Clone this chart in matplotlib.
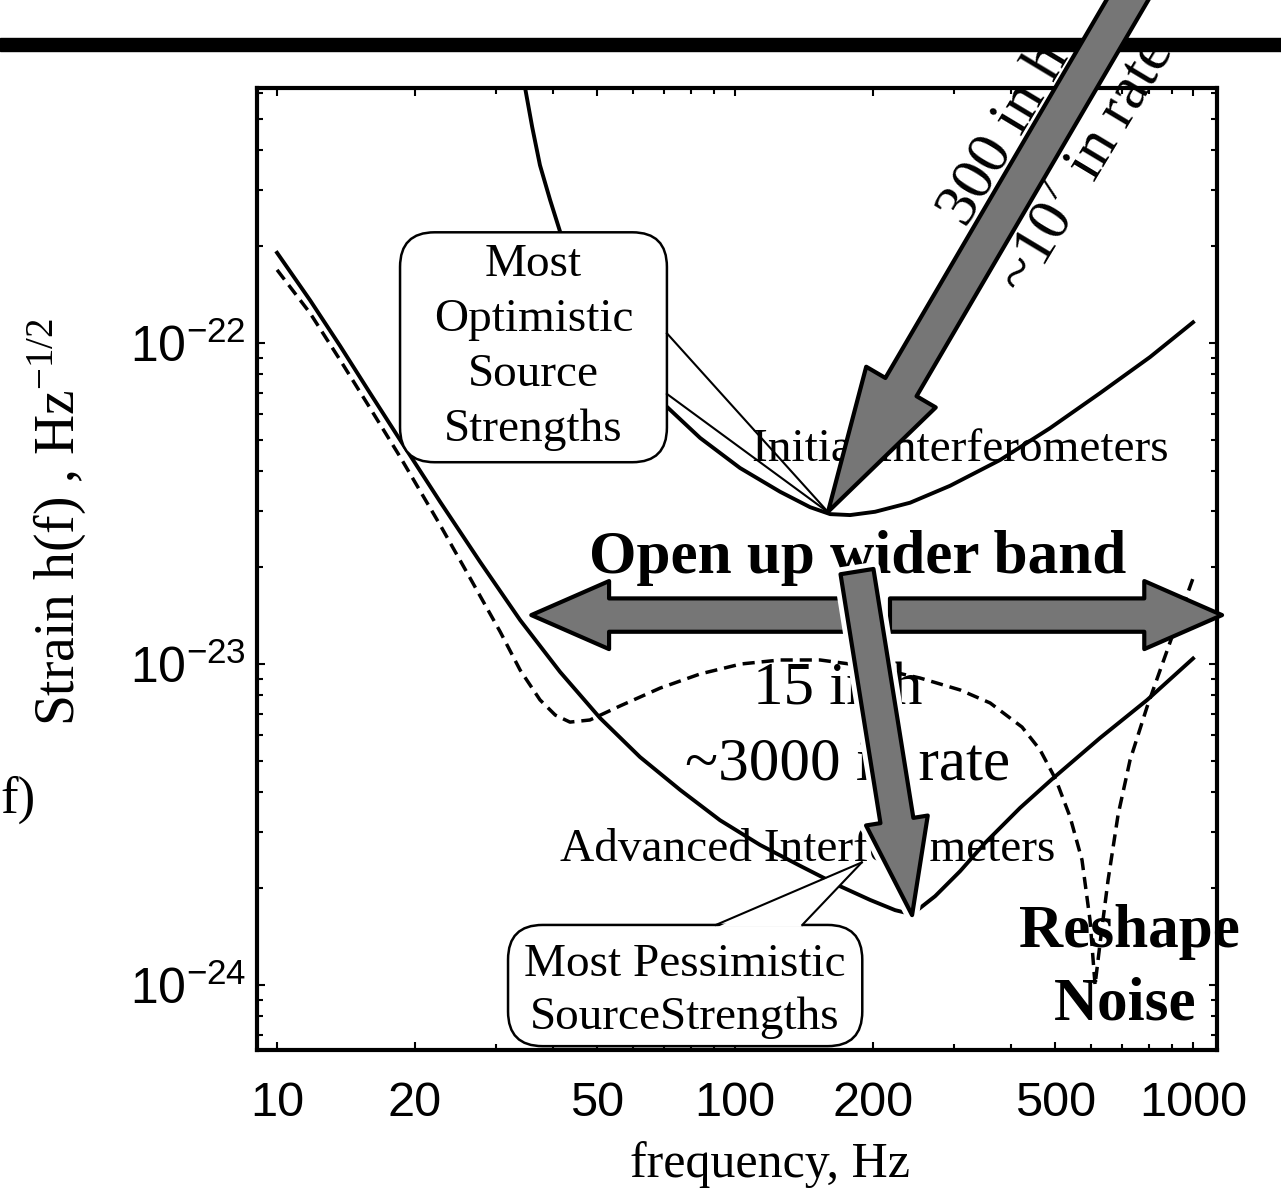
import matplotlib
matplotlib.use("Agg")
import matplotlib.pyplot as plt
from matplotlib.patches import FancyBboxPatch, Rectangle, Polygon
from matplotlib.ticker import FixedLocator, FixedFormatter, NullFormatter

# Valeurs : fréquence (Hz) et bruit en strain (Hz^-1/2)
freq_initial = [33.6, 34.8, 36.06, 37.5, 39.46, 41.5, 45.9, 50.7, 59.0, 70.3, 83.9, 102.5, 125.4,
                145.8, 161.3, 178.3, 202.2, 241.1, 294.7, 379, 487.3, 626.5, 805.5, 1000]
h_initial = [8.79e-22, 6.23e-22, 4.71e-22, 3.58e-22, 2.79e-22, 2.22e-22, 1.57e-22, 1.20e-22,
             8.54e-23, 6.41e-23, 5.06e-23, 4.08e-23, 3.44e-23, 3.08e-23, 2.93e-23, 2.91e-23,
             2.98e-23, 3.18e-23, 3.59e-23, 4.32e-23, 5.43e-23, 6.98e-23, 9.04e-23, 1.16e-22]

freq_advanced = [10, 11.8, 13.73, 15.96, 18.56, 22.7, 27.75, 33.94, 41.5, 50.7, 62.0, 75.9, 92.7,
                 113.4, 138.7, 169.6, 197.2, 223.6, 243.5, 273.4, 309.9, 351.5, 419.0, 489.8,
                 626.5, 793.6, 1000]
h_advanced = [1.91e-22, 1.36e-22, 9.79e-23, 6.98e-23, 4.99e-23, 3.20e-23, 2.08e-23, 1.37e-23,
              9.44e-24, 6.79e-24, 5.13e-24, 4.05e-24, 3.26e-24, 2.73e-24, 2.35e-24, 2.03e-24,
              1.84e-24, 1.71e-24, 1.66e-24, 1.89e-24, 2.26e-24, 2.77e-24, 3.56e-24, 4.35e-24,
              5.88e-24, 7.72e-24, 1.04e-23]

freq_reshaped = [10, 11.8, 13.73, 15.96, 18.56, 22.7, 26.4, 30.7, 33.94, 37.5, 40.5, 43.6, 48.2,
                 56.1, 68.6, 83.9, 103.1, 125.4, 153.3, 197.2, 253.5, 309.9, 360.5, 423.2, 463.4,
                 502.2, 538.8, 572.2, 595.8, 611, 629.7, 652.3, 686, 728.6, 793.6, 895, 1000]
h_reshaped = [1.69e-22, 1.24e-22, 8.85e-23, 6.27e-23, 4.42e-23, 2.71e-23, 1.85e-23, 1.26e-23,
              9.57e-24, 7.73e-24, 6.93e-24, 6.59e-24, 6.69e-24, 7.40e-24, 8.41e-24, 9.31e-24,
              1.0e-23, 1.029e-23, 1.029e-23, 9.8e-24, 9.04e-24, 8.30e-24, 7.56e-24, 6.36e-24,
              5.40e-24, 4.35e-24, 3.34e-24, 2.45e-24, 1.59e-24, 1.0e-24, 1.43e-24, 2.12e-24,
              3.39e-24, 5.02e-24, 7.35e-24, 1.19e-23, 1.85e-23]

xtick_values = [10, 20, 50, 100, 200, 500, 1000]
xtick_labels = ["10", "20", "50", "100", "200", "500", "1000"]
ytick_values = [1e-24, 1e-23, 1e-22]

plt.rcParams["font.family"] = "Liberation Serif"

W, H = 1281, 1201
fig = plt.figure(figsize=(W / 100, H / 100), dpi=100)
ax = fig.add_axes([257 / W, 1 - 1050 / H, 960 / W, 962 / H])

# barre noire en haut
fig.add_artist(Rectangle((0, 1 - 51 / H), 1, 13 / H, transform=fig.transFigure,
                         color="black", zorder=-1))

# Courbes
ax.loglog(freq_initial, h_initial, color="black", lw=2.8, zorder=3)
ax.loglog(freq_advanced, h_advanced, color="black", lw=2.8, zorder=3)
ax.loglog(freq_reshaped, h_reshaped, color="black", lw=2.5, ls=(0, (3.5, 2)), zorder=3)

ax.set_xlim(9.04, 1128)
ax.set_ylim(6.27e-25, 6.23e-22)

ax.xaxis.set_major_locator(FixedLocator(xtick_values))
ax.xaxis.set_major_formatter(FixedFormatter(xtick_labels))
ax.yaxis.set_major_locator(FixedLocator(ytick_values))
ax.xaxis.set_minor_formatter(NullFormatter())
ax.yaxis.set_minor_formatter(NullFormatter())
ax.tick_params(which="both", direction="in", top=True, right=True, width=1.5)
ax.tick_params(which="major", length=6)
ax.tick_params(which="minor", length=4)
ax.tick_params(axis="x", labelsize=35, pad=22, labelfontfamily="Liberation Sans")
ax.tick_params(axis="y", labelsize=36, pad=8, labelfontfamily="Liberation Sans")
for s in ax.spines.values():
    s.set_linewidth(3)

fig.text(770 / W, 1 - 1165 / H, "frequency, Hz", fontsize=36, ha="center", va="center")
fig.text(57 / W, 1 - 522 / H, r"Strain h(f) , Hz$^{\mathregular{-1/2}}$", fontsize=40,
         rotation=90, ha="center", va="center")
fig.text(0.0, 1 - 800 / H, "f)", fontsize=38, ha="left", va="center")

# Textes
ax.text(0.5156, 0.6237, "Initial Interferometers", transform=ax.transAxes, fontsize=34,
        ha="left", va="center", zorder=2.5)
ax.text(0.3156, 0.2079, "Advanced Interferometers", transform=ax.transAxes, fontsize=34,
        ha="left", va="center", zorder=2.5)
ax.text(0.626, 0.5114, "Open up wider band", transform=ax.transAxes, fontsize=44,
        fontweight="bold", ha="center", va="center", zorder=2.5)
ax.text(0.605, 0.3742, "15 in h", transform=ax.transAxes, fontsize=44,
        ha="center", va="center", zorder=2.5)
ax.text(0.6156, 0.2963, "~3000 in rate", transform=ax.transAxes, fontsize=44,
        ha="center", va="center", zorder=2.5)
ax.text(0.909, 0.1227, "Reshape", transform=ax.transAxes, fontsize=44,
        fontweight="bold", ha="center", va="center", zorder=2.5)
ax.text(0.904, 0.0468, "Noise", transform=ax.transAxes, fontsize=44,
        fontweight="bold", ha="center", va="center", zorder=2.5)

# Bulles
box1 = FancyBboxPatch((0.149, 0.611), 0.278, 0.239, boxstyle="round,pad=0,rounding_size=0.036",
                      transform=ax.transAxes, facecolor="white", edgecolor="black", lw=1.8,
                      zorder=4, clip_on=False)
ax.add_patch(box1)
ax.text(0.288, 0.7305, "Most\nOptimistic\nSource\nStrengths", transform=ax.transAxes,
        fontsize=34, ha="center", va="center", linespacing=1.38, zorder=4.5)
ax.plot([0.427, 0.595], [0.745, 0.559], transform=ax.transAxes, color="black", lw=1.5, zorder=4)
ax.plot([0.427, 0.595], [0.682, 0.559], transform=ax.transAxes, color="black", lw=1.5, zorder=4)

box2 = FancyBboxPatch((0.2615, 0.004), 0.369, 0.126, boxstyle="round,pad=0,rounding_size=0.036",
                      transform=ax.transAxes, facecolor="white", edgecolor="black", lw=1.8,
                      zorder=4, clip_on=False)
ax.add_patch(box2)
ax.add_patch(Polygon([(0.480, 0.128), (0.566, 0.128), (0.630, 0.195)], closed=True,
                     transform=ax.transAxes, facecolor="white", edgecolor="none", zorder=4.1))
ax.text(0.446, 0.061, "Most Pessimistic\nSourceStrengths", transform=ax.transAxes,
        fontsize=34, ha="center", va="center", linespacing=1.34, zorder=4.5)
ax.plot([0.478, 0.630], [0.130, 0.195], transform=ax.transAxes, color="black", lw=1.5, zorder=4.2)
ax.plot([0.568, 0.630], [0.130, 0.195], transform=ax.transAxes, color="black", lw=1.5, zorder=4.2)


def fat_arrow(tail, tip, tail_w, head_w, head_l, edge="black", lw=3, z=6):
    style = f"simple,head_length={head_l},head_width={head_w},tail_width={tail_w}"
    ax.annotate("", xy=tip, xytext=tail, annotation_clip=False, zorder=z,
                arrowprops=dict(arrowstyle=style, facecolor="#767676", edgecolor=edge,
                                linewidth=lw, shrinkA=0, shrinkB=0, mutation_scale=1))


# flèche diagonale (300 en h)
fat_arrow((762, 1.35e-21), (159.6, 2.98e-23), 26, 58, 104)
ax.text(388.6, 4.45e-22, "300 in h", fontsize=44, rotation=59, rotation_mode="anchor",
        ha="center", va="center", zorder=5)
ax.text(586.9, 3.53e-22, r"~10$^{\mathregular{7}}$ in rate", fontsize=44, rotation=59,
        rotation_mode="anchor", ha="center", va="center", zorder=5)

# double flèche horizontale
fat_arrow((173.9, 1.42e-23), (35.9, 1.42e-23), 24, 49, 56)
fat_arrow((217.9, 1.42e-23), (1157, 1.42e-23), 24, 49, 56)

# flèche vers le bas (15 en h)
fat_arrow((184.6, 1.94e-23), (243.5, 1.65e-24), 24, 45, 69, edge="white", lw=10, z=6.5)
fat_arrow((184.6, 1.94e-23), (243.5, 1.65e-24), 24, 45, 69, z=6.6)

fig.savefig("out.png", dpi=100)
